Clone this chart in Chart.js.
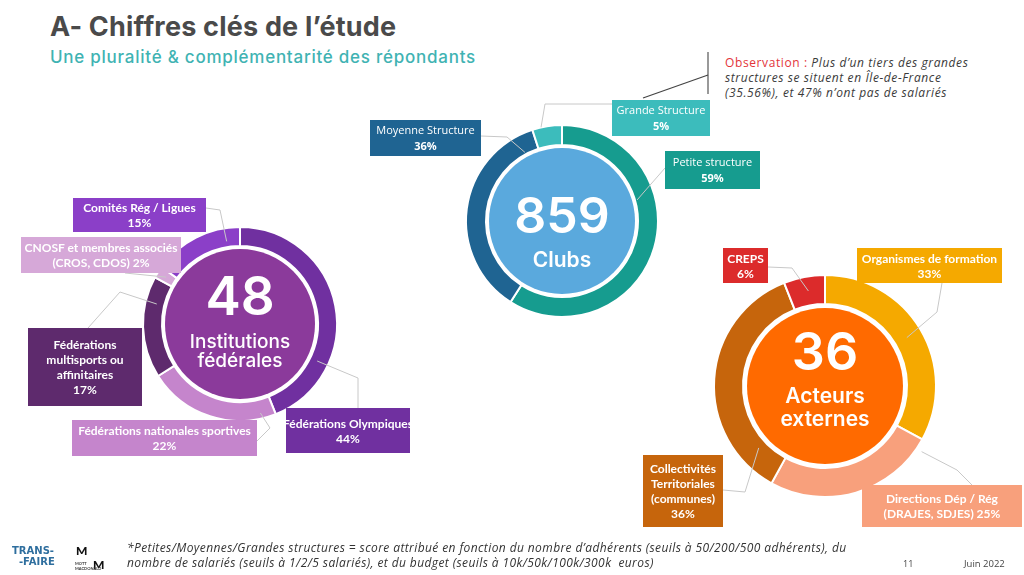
<!DOCTYPE html>
<html lang="fr">
<head>
<meta charset="utf-8">
<title>Chiffres clés de l'étude</title>
<script src="https://cdn.jsdelivr.net/npm/chart.js@4.4.1/dist/chart.umd.min.js"></script>
<style>
  html, body { margin: 0; padding: 0; background: #fff; }
  #page { position: relative; width: 1024px; height: 575px; overflow: hidden; font-family: Lato, sans-serif; }
  #page canvas { position: absolute; left: 0; top: 0; }
  .title { position: absolute; left: 50px; top: 10px; font: 700 27px Inter, sans-serif; color: #4a4a4a; letter-spacing: 0.2px; }
  .subtitle { position: absolute; left: 50px; top: 47px; font: 500 17px Inter, sans-serif; color: #3fb3b3; letter-spacing: 0.75px; }
  .obs { position: absolute; left: 725px; top: 55px; font: italic 12px "Open Sans", sans-serif; color: #3a3a3a; line-height: 15px; white-space: nowrap; letter-spacing: 0.6px; }
  .obs b { font-style: normal; font-weight: 500; color: #e3343a; }
  .box { position: absolute; z-index: 2; color: #fff; text-align: center; font: bold 12px Lato, sans-serif; line-height: 15px;
         display: flex; flex-direction: column; justify-content: center; align-items: center; white-space: nowrap; overflow: hidden; }
  .box.club { font: 11px "Open Sans", sans-serif; line-height: 16px; }
  .box.club span:last-child { font-weight: bold; }
  .foot { position: absolute; left: 127px; top: 540px; font: italic 12px "Open Sans", sans-serif; color: #333; line-height: 15px; white-space: nowrap; letter-spacing: 0.4px; }
  .pnum { position: absolute; left: 903px; top: 557px; font: 9px "Open Sans", sans-serif; color: #444; }
  .date { position: absolute; left: 964px; top: 557px; font: 9.5px "Open Sans", sans-serif; color: #444; }
  .logo1 { position: absolute; left: 12px; top: 545px; font: 700 10px "DejaVu Sans", sans-serif; color: #2e6e9e; line-height: 11px; }
  .logo2 { position: absolute; left: 76px; top: 543px; font: 900 12px Lato, sans-serif; color: #111; }
  .logo3 { position: absolute; left: 93px; top: 557px; font: 900 12px Lato, sans-serif; color: #111; }
  .logo4 { position: absolute; left: 75px; top: 561px; font: 700 4px Lato, sans-serif; color: #333; line-height: 5px; }
  svg.deco { position: absolute; left: 0; top: 0; z-index: 1; }
</style>
</head>
<body>
<div id="page">
  <div class="title">A- Chiffres clés de l’étude</div>
  <div class="subtitle">Une pluralité &amp; complémentarité des répondants</div>
  <div class="obs"><b>Observation :</b> Plus d’un tiers des grandes<br>structures se situent en Île-de-France<br>(35.56%), et 47% n’ont pas de salariés</div>
  <svg class="deco" width="1024" height="575">
    <line x1="708" y1="52" x2="708" y2="94" stroke="#555" stroke-width="1.2"/>
    <line x1="643" y1="98" x2="708" y2="75" stroke="#444" stroke-width="1.2"/>
  </svg>

  <canvas id="chartInst" width="1024" height="575"></canvas>
  <canvas id="chartClubs" width="1024" height="575"></canvas>
  <canvas id="chartExt" width="1024" height="575"></canvas>

  <div class="foot">*Petites/Moyennes/Grandes structures = score attribué en fonction du nombre d’adhérents (seuils à 50/200/500 adhérents), du<br>nombre de salariés (seuils à 1/2/5 salariés), et du budget (seuils à 10k/50k/100k/300k&nbsp; euros)</div>
  <div class="pnum">11</div>
  <div class="date">Juin 2022</div>
  <div class="logo1">TRANS-<br>&nbsp;&nbsp;-FAIRE</div>
  <div class="logo2">M</div>
  <div class="logo3">M</div>
  <div class="logo4">MOTT<br>MACDONALD</div>
</div>

<script>
// institutions fédérales (48)
const instLabels = ['Fédérations Olympiques', 'Fédérations nationales sportives', 'Fédérations multisports ou affinitaires', 'CNOSF et membres associés (CROS, CDOS)', 'Comités Rég / Ligues'];
const instValues = [44, 22, 17, 2, 15];
const instColors = ['#7030a0', '#c585cc', '#5e2a6d', '#d6a8d8', '#8b3fc8'];

// clubs (859)
const clubLabels = ['Petite structure', 'Moyenne Structure', 'Grande Structure'];
const clubValues = [59, 36, 5];
const clubColors = ['#169c8f', '#1f6492', '#3cbcbc'];

// acteurs externes (36)
const extLabels = ['Organismes de formation', 'Directions Dép / Rég (DRAJES, SDJES)', 'Collectivités Territoriales (communes)', 'CREPS'];
const extValues = [33, 25, 36, 6];
const extColors = ['#f5a900', '#f8a07c', '#c6650c', '#dc2b2b'];

// boxes de labels ({v} = valeur)
const instBoxes = [
  { lines: ['Fédérations Olympiques', '{v}'], x: 286, y: 408, w: 124, h: 45 },
  { lines: ['Fédérations nationales sportives', '{v}'], x: 72, y: 420, w: 185, h: 36 },
  { lines: ['Fédérations', 'multisports ou', 'affinitaires', '{v}'], x: 28, y: 328, w: 114, h: 78 },
  { lines: ['CNOSF et membres associés', '(CROS, CDOS) {v}'], x: 21, y: 237, w: 160, h: 36 },
  { lines: ['Comités Rég / Ligues', '{v}'], x: 73, y: 198, w: 133, h: 34 }
];
const clubBoxes = [
  { lines: ['Petite structure', '{v}'], x: 665, y: 151, w: 95, h: 38 },
  { lines: ['Moyenne Structure', '{v}'], x: 370, y: 120, w: 111, h: 36 },
  { lines: ['Grande Structure', '{v}'], x: 612, y: 100, w: 98, h: 36 }
];
const extBoxes = [
  { lines: ['Organismes de formation', '{v}'], x: 857, y: 248, w: 145, h: 35 },
  { lines: ['Directions Dép / Rég', '(DRAJES, SDJES) {v}'], x: 862, y: 485, w: 160, h: 42 },
  { lines: ['Collectivités', 'Territoriales', '(communes)', '{v}'], x: 643, y: 455, w: 80, h: 72 },
  { lines: ['CREPS', '{v}'], x: 723, y: 248, w: 45, h: 35 }
];

// deco par graphique : cercle central, textes, lignes de rappel
const deco = {
  chartInst: {
    fill: '#8b3a9b', r: 75,
    texts: [
      { text: '48', font: '600 53px Inter', dy: -9 },
      { text: 'Institutions', font: '500 19px Inter', dy: 24 },
      { text: 'fédérales', font: '500 19px Inter', dy: 43 }
    ],
    leaders: [
      { i: 0, t: 0.73, rf: 0.4, pts: [[358, 378], [358, 408]] },
      { i: 1, t: 0.11, rf: 0.7, pts: [[270, 428], [257, 441]] },
      { i: 2, t: 0.75, rf: 0.4, pts: [[120, 292], [88, 328]] },
      { i: 3, t: 0.5, rf: 0.5, pts: [[125, 273]] },
      { i: 4, t: 0.83, rf: 0.3, pts: [[220, 210], [206, 208]] }
    ]
  },
  chartClubs: {
    fill: '#5aa9dd', r: 73,
    texts: [
      { text: '859', font: '600 50px Inter', dy: 12 },
      { text: 'Clubs', font: '600 21px Inter', dy: 46 }
    ],
    leaders: [
      { i: 0, t: 0.35, rf: 0.1, pts: [[665, 168]] },
      { i: 1, t: 0.92, rf: 0.1, pts: [[507, 137], [481, 136]] },
      { i: 2, t: 0.3, rf: 1, pts: [[545, 104], [612, 104]] }
    ]
  },
  chartExt: {
    fill: '#ff6a00', r: 78,
    texts: [
      { text: '36', font: '600 52px Inter', dy: -16 },
      { text: 'Acteurs', font: '600 21px Inter', dy: 17 },
      { text: 'externes', font: '600 21px Inter', dy: 40 }
    ],
    leaders: [
      { i: 0, t: 0.5, rf: 0.45, pts: [[937, 312], [942, 283]] },
      { i: 1, t: 0.06, rf: 1.2, pts: [[957, 470], [972, 485]] },
      { i: 2, t: 0.14, rf: 0.3, pts: [[745, 492], [723, 490]] },
      { i: 3, t: 0.54, rf: 0.5, pts: [[792, 268], [768, 267]] }
    ]
  }
};

const donutDeco = {
  id: 'donutDeco',
  beforeDatasetsDraw(chart) {
    const d = deco[chart.canvas.id];
    const arc = chart.getDatasetMeta(0).data[0];
    const ctx = chart.ctx;
    ctx.save();
    ctx.fillStyle = d.fill;
    ctx.beginPath();
    ctx.arc(arc.x, arc.y, d.r, 0, Math.PI * 2);
    ctx.fill();
    ctx.fillStyle = '#fff';
    ctx.textAlign = 'center';
    ctx.textBaseline = 'alphabetic';
    d.texts.forEach(t => {
      ctx.font = t.font;
      ctx.fillText(t.text, arc.x, arc.y + t.dy);
    });
    ctx.restore();
  },
  afterDatasetsDraw(chart) {
    const d = deco[chart.canvas.id];
    const meta = chart.getDatasetMeta(0);
    const ctx = chart.ctx;
    ctx.save();
    ctx.strokeStyle = '#c8c8c8';
    ctx.lineWidth = 1;
    d.leaders.forEach(l => {
      const p = meta.data[l.i].getProps(['x', 'y', 'startAngle', 'endAngle', 'innerRadius', 'outerRadius']);
      const ang = p.startAngle + l.t * (p.endAngle - p.startAngle);
      const r = p.innerRadius + l.rf * (p.outerRadius - p.innerRadius);
      ctx.beginPath();
      ctx.moveTo(p.x + Math.cos(ang) * r, p.y + Math.sin(ang) * r);
      l.pts.forEach(q => ctx.lineTo(q[0], q[1]));
      ctx.stroke();
    });
    ctx.restore();
  }
};

function makeDonut(id, labels, values, colors, cutout, pad) {
  new Chart(document.getElementById(id), {
    type: 'doughnut',
    data: {
      labels: labels,
      datasets: [{
        data: values,
        backgroundColor: colors,
        borderColor: '#ffffff',
        borderWidth: 2
      }]
    },
    options: {
      responsive: false,
      animation: false,
      cutout: cutout,
      layout: { padding: pad },
      events: [],
      plugins: {
        legend: { display: false },
        tooltip: { enabled: false }
      }
    },
    plugins: [donutDeco]
  });
}

function makeBoxes(boxes, values, colors, cls) {
  const page = document.getElementById('page');
  boxes.forEach((b, i) => {
    const div = document.createElement('div');
    div.className = 'box' + (cls ? ' ' + cls : '');
    div.style.left = b.x + 'px';
    div.style.top = b.y + 'px';
    div.style.width = b.w + 'px';
    div.style.height = b.h + 'px';
    div.style.background = colors[i];
    b.lines.forEach(line => {
      const s = document.createElement('span');
      s.textContent = line.replace('{v}', values[i] + '%');
      div.appendChild(s);
    });
    page.appendChild(div);
  });
}

// centre (240,324) r 97 / centre (562,221) r 96 / centre (825,386) r 111
makeDonut('chartInst', instLabels, instValues, instColors, 78, { left: 142, top: 226, right: 686, bottom: 153 });
makeDonut('chartClubs', clubLabels, clubValues, clubColors, 76, { left: 465, top: 124, right: 365, bottom: 257 });
makeDonut('chartExt', extLabels, extValues, extColors, 82, { left: 713, top: 274, right: 87, bottom: 77 });

makeBoxes(instBoxes, instValues, instColors);
makeBoxes(clubBoxes, clubValues, clubColors, 'club');
makeBoxes(extBoxes, extValues, extColors);
</script>
</body>
</html>
